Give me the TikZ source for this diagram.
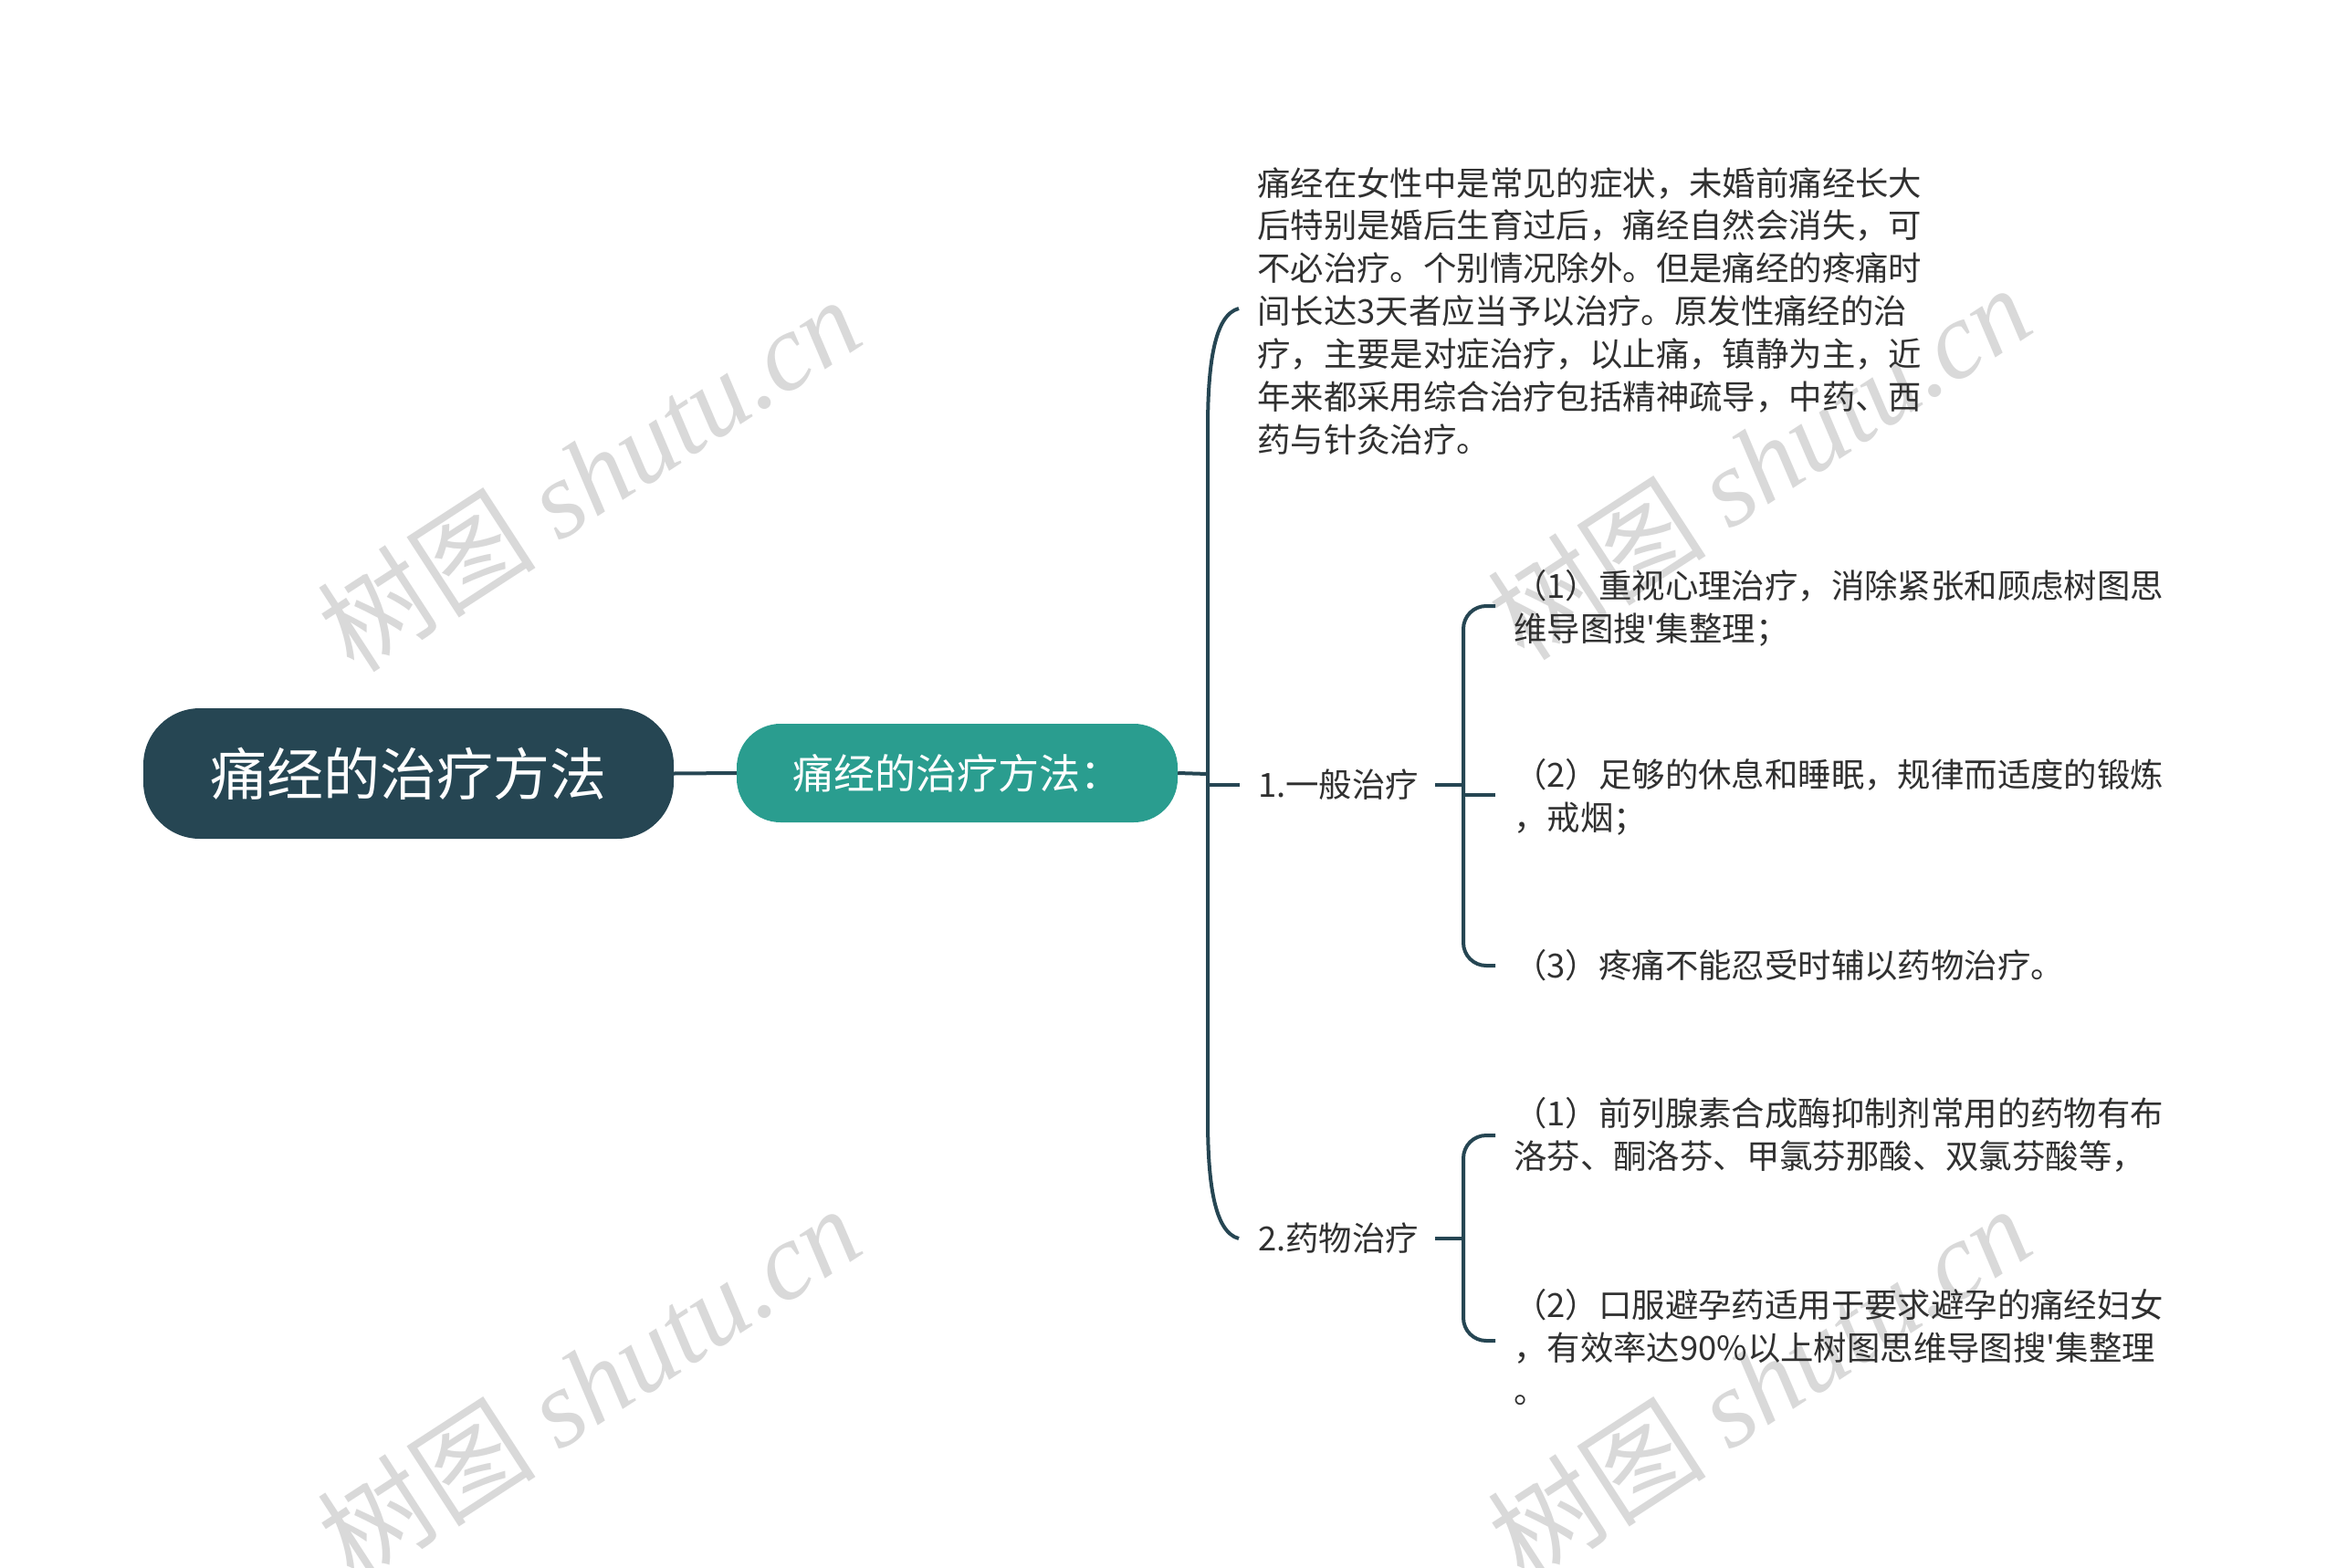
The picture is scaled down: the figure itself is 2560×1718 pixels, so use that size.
\documentclass[tikz,border=0pt]{standalone}
\usepackage{fontspec}
\setmainfont{Noto Sans CJK SC}
\newfontfamily\apf{Noto Sans CJK SC}
\newfontfamily\wmlat{Liberation Serif}
\newcommand{\apq}{{\apf '}}
\definecolor{dk}{HTML}{264653}
\definecolor{tl}{HTML}{2A9D8F}
\definecolor{txtc}{HTML}{303030}
\definecolor{wmc}{HTML}{D9D9D9}
\tikzset{
  rootbox/.style={fill=dk, rounded corners=62pt, minimum width=581pt, minimum height=143pt, text=white, inner sep=0pt, font=\fontsize{62}{70}\selectfont},
  subbox/.style={fill=tl, rounded corners=48pt, minimum width=483pt, minimum height=108pt, text=white, inner sep=0pt, font=\fontsize{45}{52}\selectfont},
  txt/.style={anchor=west, align=left, inner sep=0pt, text=txtc, font=\fontsize{36.4}{47}\selectfont},
  conn/.style={draw=dk, line width=4pt},
  wm/.style={text=wmc, inner sep=0pt, font=\fontsize{120}{130}\selectfont, rotate=33}
}
\begin{document}
\begin{tikzpicture}[x=1pt,y=-1pt]
\useasboundingbox (0,0) rectangle (2560,1718);
% watermarks
\node[wm] (w1) at (645,519) {树图 {\wmlat\itshape shutu.cn}};
\node[wm] (w2) at (1927,506) {树图 {\wmlat\itshape shutu.cn}};
\node[wm] (w3) at (645,1515) {树图 {\wmlat\itshape shutu.cn}};
\node[wm] (w4) at (1927,1515) {树图 {\wmlat\itshape shutu.cn}};
% main nodes
\node[rootbox] (root) at (447.5,847.5) {痛经的治疗方法};
\node[subbox] (sub) at (1048.5,847) {痛经的治疗方法：};
\draw[conn] (root.east) -- (sub.west);
% main bracket
\coordinate (mT) at (1357,338);
\coordinate (mB) at (1357,1357);
\coordinate (mJ) at (1323,848);
\draw[conn] (sub.east) -- (mJ);
\draw[conn] (mT) .. controls (1330,345) and (1323,400) .. (1323,470) -- (1323,1225) .. controls (1323,1295) and (1330,1350) .. (mB);
% top text
\node[txt] (intro) at (1377,341) {痛经在女性中是常见的症状，未婚前痛经长大\\后特别是婚后生育过后，痛经自然会消失，可\\不必治疗。个别情况除外。但是痛经的疼痛时\\间长达3天者应当予以治疗。原发性痛经的治\\疗，主要是对症治疗，以止痛，镇静为主，近\\年来都采用综合治疗包括精神疏导，中药、西\\药与针灸治疗。};
% branch 1
\node[txt] (b1) at (1378,860) {1.一般治疗};
\coordinate (b1in) at (1323,860);
\coordinate (b1L) at (1358,860);
\draw[conn] (b1in) -- (b1L);
\coordinate (b1R) at (1572,860);
\coordinate (s1J) at (1603,860);
\draw[conn] (b1R) -- (s1J);
\node[txt] (a1) at (1658,666) {（1）重视心理治疗，消除紧张和顾虑树图思\\维导图搜\apq 集整理；};
\node[txt] (a2) at (1658,873) {（2）足够的休息和睡眠，规律而适度的锻炼\\，戒烟；};
\node[txt] (a3) at (1658,1058) {（3）疼痛不能忍受时辅以药物治疗。};
\coordinate (a1t) at (1638,664);
\coordinate (a3t) at (1638,1058);
\draw[conn, rounded corners=25pt] (a1t) -- (1603,664) -- (1603,1058) -- (a3t);
\coordinate (a2t) at (1638,871);
\coordinate (a2s) at (1603,871);
\draw[conn] (a2s) -- (a2t);
% branch 2
\node[txt] (b2) at (1378,1357) {2.药物治疗};
\coordinate (b2R) at (1572,1357);
\coordinate (s2J) at (1603,1357);
\draw[conn] (b2R) -- (s2J);
\node[txt] (d1) at (1658,1243) {（1）前列腺素合成酶抑制剂常用的药物有布\\洛芬、酮洛芬、甲氯芬那酸、双氯芬酸等，};
\node[txt] (d2) at (1658,1476) {（2）口服避孕药适用于要求避孕的痛经妇女\\，有效率达90\%以上树图思维导图搜\apq 集整理\\。};
\coordinate (d1t) at (1638,1244);
\coordinate (d2t) at (1638,1469);
\draw[conn, rounded corners=25pt] (d1t) -- (1603,1244) -- (1603,1469) -- (d2t);
\end{tikzpicture}
\end{document}
